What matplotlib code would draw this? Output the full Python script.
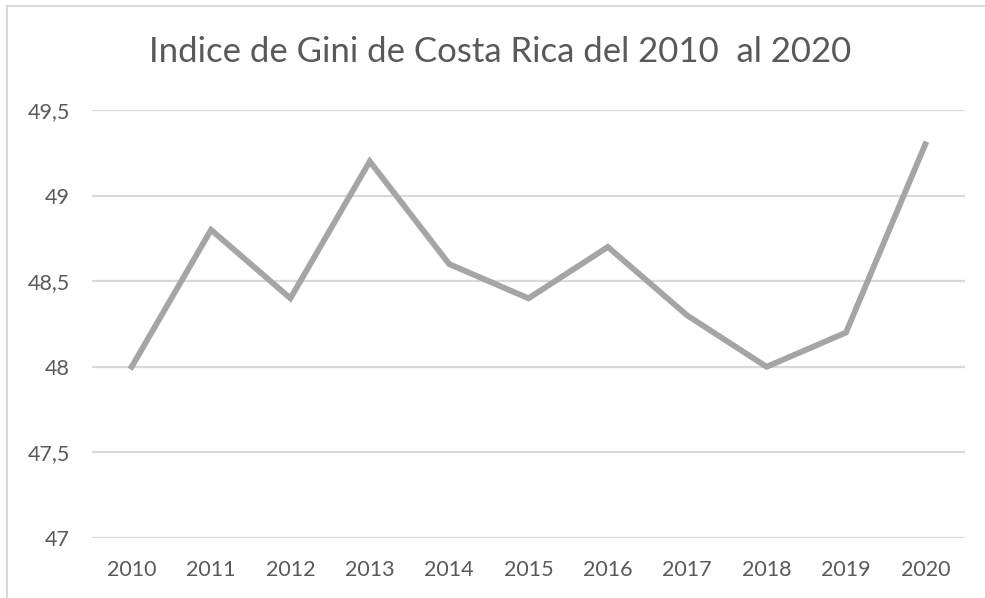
import matplotlib
matplotlib.use('Agg')
import matplotlib.pyplot as plt
from matplotlib.lines import Line2D
from matplotlib.ticker import FuncFormatter

years = ['2010', '2011', '2012', '2013', '2014', '2015', '2016', '2017', '2018', '2019', '2020']
gini = [48.0, 48.8, 48.4, 49.2, 48.6, 48.4, 48.7, 48.3, 48.0, 48.2, 49.3]
y_ticks = [47, 47.5, 48, 48.5, 49, 49.5]

plt.rcParams['font.family'] = ['Lato', 'DejaVu Sans']
text_col = '#595959'

fig = plt.figure(figsize=(9.85, 5.98), dpi=100)
ax = fig.add_axes([92 / 985, 1 - 538 / 598, (965 - 92) / 985, (538 - 110) / 598])

x = list(range(len(years)))
ax.plot(x, gini, color='#a5a5a5', linewidth=4.2, solid_joinstyle='miter', zorder=3)

ax.set_xlim(-0.5, len(years) - 0.5)
ax.set_ylim(47, 49.5)
ax.set_yticks(y_ticks)
ax.yaxis.set_major_formatter(FuncFormatter(lambda v, p: f'{v:g}'.replace('.', ',')))
ax.set_xticks(x)
ax.set_xticklabels(years)
ax.grid(axis='y', color='#d9d9d9', linewidth=1.6)
ax.set_axisbelow(True)
for s in ax.spines.values():
    s.set_visible(False)
ax.tick_params(length=0, labelsize=15.5, colors=text_col)
ax.tick_params(axis='x', pad=16)
ax.tick_params(axis='y', pad=16)

fig.text(500 / 985, 1 - 52 / 598, 'Indice de Gini de Costa Rica del 2010  al 2020',
         ha='center', va='center', fontsize=25, color=text_col)

# chart frame (only top and left edges are visible)
fig.add_artist(Line2D([7 / 985, 7 / 985], [0, 1 - 6 / 598], color='#d9d9d9', linewidth=1.5))
fig.add_artist(Line2D([7 / 985, 1], [1 - 6 / 598, 1 - 6 / 598], color='#d9d9d9', linewidth=1.5))

fig.savefig('out.png', dpi=100)
